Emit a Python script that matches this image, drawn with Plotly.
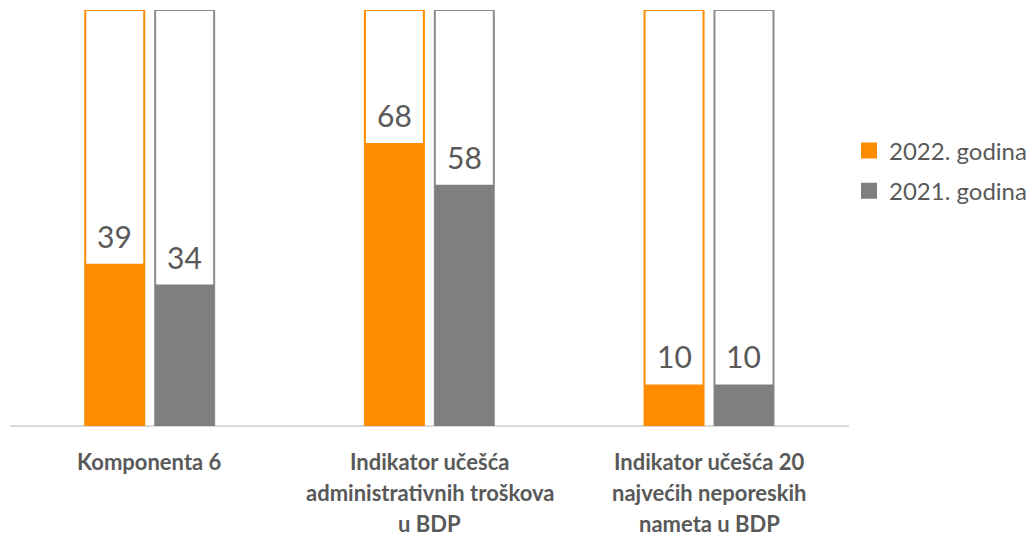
import plotly.graph_objects as go

categories = [
    "Komponenta 6",
    "Indikator učešća<br>administrativnih troškova<br>u BDP",
    "Indikator učešća 20<br>najvećih neporeskih<br>nameta u BDP",
]
series_names = ["2022. godina", "2021. godina"]
values_2022 = [39, 68, 10]
values_2021 = [34, 58, 10]
full_scale = [100, 100, 100]

ORANGE = "#FF8C00"
GRAY = "#7F7F7F"
TEXT = "#595959"
FONT = "Lato, sans-serif"

x = list(range(len(categories)))
bar_w = 0.211
offsets = [-0.231, 0.019]
colors = [ORANGE, GRAY]
outline_colors = [ORANGE, "#8C8C8C"]
series = [values_2022, values_2021]

fig = go.Figure()

# outline "container" bars at full height
for k in range(2):
    fig.add_trace(
        go.Bar(
            x=x,
            y=full_scale,
            width=bar_w,
            offset=offsets[k],
            marker=dict(color="white", line=dict(color=outline_colors[k], width=2)),
            showlegend=False,
            hoverinfo="skip",
        )
    )

# filled bars with the actual values
for k in range(2):
    fig.add_trace(
        go.Bar(
            x=x,
            y=series[k],
            width=bar_w,
            offset=offsets[k],
            name=series_names[k],
            legendgroup=series_names[k],
            showlegend=False,
            marker=dict(color=colors[k], line=dict(width=0)),
        )
    )

# legend-only entries so the swatches are bigger squares
for k in range(2):
    fig.add_trace(
        go.Scatter(
            x=[None],
            y=[None],
            mode="markers",
            name=series_names[k],
            legendgroup=series_names[k],
            marker=dict(symbol="square", size=16, color=colors[k]),
        )
    )

annotations = []
# value labels
for k in range(2):
    for i, v in enumerate(series[k]):
        annotations.append(
            dict(
                x=i + offsets[k] + bar_w / 2,
                y=v,
                text=str(v),
                showarrow=False,
                yanchor="middle",
                yshift=28,
                font=dict(family=FONT, size=30, color=TEXT),
            )
        )

# category labels, one annotation per line
for i, cat in enumerate(categories):
    for j, line in enumerate(cat.split("<br>")):
        annotations.append(
            dict(
                x=i,
                y=0,
                text="<b>" + line + "</b>",
                showarrow=False,
                yanchor="middle",
                yshift=-(35 + 31 * j),
                font=dict(family=FONT, size=22, color=TEXT),
            )
        )

# page body adds an 8px offset, so the figure is 8px smaller than the window
fig.update_layout(
    width=1026,
    height=528,
    barmode="overlay",
    plot_bgcolor="white",
    paper_bgcolor="white",
    margin=dict(l=2, r=172, t=2, b=110),
    annotations=annotations,
    legend=dict(
        x=1.0,
        y=0.613,
        xanchor="left",
        yanchor="middle",
        traceorder="grouped",
        tracegroupgap=6,
        font=dict(family=FONT, size=24, color=TEXT),
    ),
)
fig.update_xaxes(
    range=[-0.5, 2.5],
    showticklabels=False,
    showgrid=False,
    zeroline=False,
    showline=False,
)
fig.update_yaxes(
    range=[0, 100],
    showticklabels=False,
    showgrid=False,
    zeroline=True,
    zerolinecolor="#D9D9D9",
    zerolinewidth=2,
)

fig.write_html("out.html")
